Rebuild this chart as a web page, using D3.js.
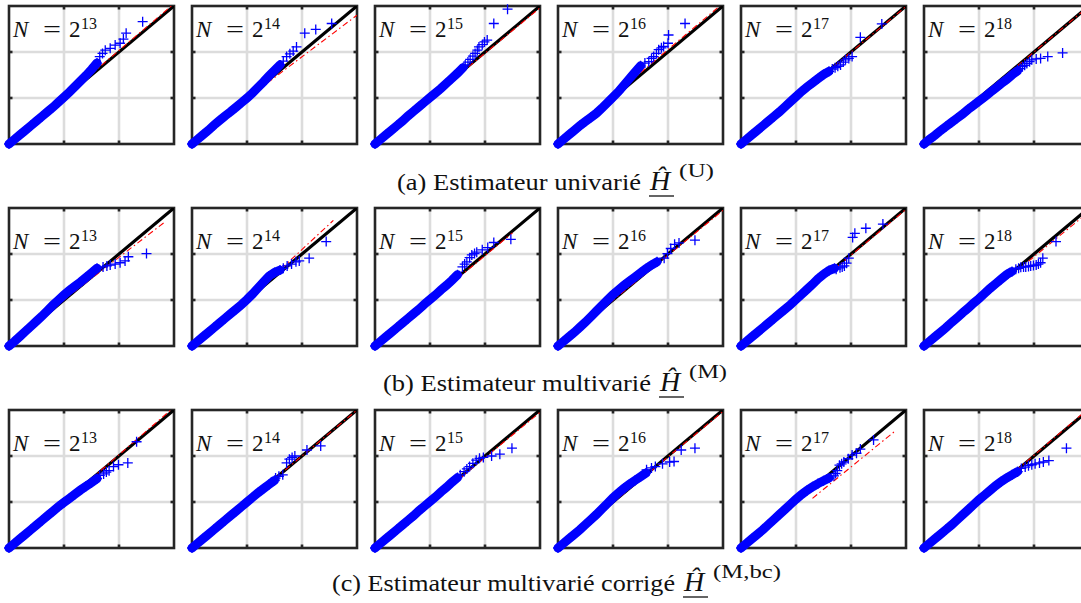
<!DOCTYPE html>
<html>
<head>
<meta charset="utf-8">
<script src="https://cdn.jsdelivr.net/npm/d3@7"></script>
<style>
  body { margin: 0; background: #fff; }
  svg { display: block; }
</style>
</head>
<body>
<svg id="fig" width="1081" height="603"></svg>
<script>
// ---- data -------------------------------------------------------------
// sample sizes N = 2^k, one panel per exponent
const exponents = [13, 14, 15, 16, 17, 18];

// theoretical quantiles used for the dense central part of each QQ plot
const quantX = [0.0, 0.1, 0.2, 0.3, 0.4, 0.5, 0.6, 0.7, 0.8, 0.9,
                1.0, 1.1, 1.2, 1.3, 1.4, 1.5, 1.6, 1.7, 1.8, 1.9];

// (a) univariate estimator: empirical quantiles on quantX
const bandU = [
  [0, .1, .2, .3, .4, .5, .6, .7, .8, .91, 1.02, 1.13, 1.25, 1.37, 1.49, 1.62, 1.76],
  [0, .1, .2, .3, .41, .51, .61, .7, .8, .9, 1.0, 1.11, 1.23, 1.35, 1.48, 1.6, 1.72],
  [0, .1, .2, .3, .4, .5, .61, .71, .81, .91, 1.01, 1.11, 1.21, 1.32, 1.43, 1.54, 1.66],
  [0, .1, .2, .3, .4, .49, .58, .67, .78, .9, 1.02, 1.14, 1.28, 1.42, 1.56, 1.70],
  [0, .1, .2, .3, .4, .5, .6, .7, .81, .92, 1.03, 1.14, 1.24, 1.33, 1.42, 1.51, 1.58],
  [0, .1, .19, .29, .38, .47, .56, .65, .75, .84, .93, 1.02, 1.12, 1.21, 1.31, 1.40, 1.50, 1.59]
];
// (a) upper-tail points [theoretical, empirical]
const tailU = [
  [[1.65,1.90],[1.70,1.97],[1.75,2.04],[1.84,2.08],[1.93,2.15],[2.02,2.19],[2.08,2.28],[2.13,2.41],[2.43,2.66]],
  [[1.60,1.72],[1.66,1.80],[1.72,1.90],[1.78,1.96],[1.84,2.02],[1.90,2.11],[2.05,2.41],[2.25,2.49],[2.54,2.62]],
  [[1.64,1.72],[1.69,1.78],[1.73,1.84],[1.78,1.91],[1.82,1.97],[1.86,2.04],[1.89,2.11],[1.95,2.16],[1.99,2.22],[2.04,2.26],[2.16,2.62],[2.41,2.93]],
  [[1.58,1.76],[1.65,1.79],[1.70,1.86],[1.74,1.90],[1.79,1.97],[1.83,2.05],[1.88,2.09],[1.92,2.12],[2.00,2.19],[2.01,2.37],[2.31,2.62]],
  [[1.66,1.63],[1.71,1.66],[1.76,1.69],[1.81,1.72],[1.86,1.78],[1.90,1.83],[1.96,1.86],[2.02,1.90],[2.17,2.32],[2.56,2.61]],
  [[1.70,1.61],[1.75,1.64],[1.79,1.68],[1.83,1.71],[1.87,1.75],[1.92,1.79],[1.96,1.83],[2.04,1.85],[2.12,1.86],[2.25,1.90],[2.52,1.98]]
];
// (a) fitted quartile line, [x0, y0, x1, y1]
const fitU = [[0,0,3,3.05],[0,0.09,3,2.80],[0,0,3,2.96],[0,0.04,3,3.06],[0,0.01,3,2.99],[0,0,3,3]];

// (b) multivariate estimator
const bandM = [
  [0, .1, .21, .32, .43, .54, .65, .77, .89, 1.0, 1.11, 1.21, 1.3, 1.39, 1.49, 1.59, 1.69],
  [0, .1, .2, .3, .4, .5, .6, .7, .8, .9, 1.01, 1.13, 1.26, 1.39, 1.52, 1.6, 1.65],
  [0, .1, .2, .3, .4, .5, .6, .7, .8, .91, 1.01, 1.11, 1.22, 1.32, 1.43, 1.55],
  [0, .1, .2, .3, .41, .52, .64, .76, .88, 1.0, 1.12, 1.22, 1.32, 1.41, 1.5, 1.59, 1.68, 1.76, 1.83],
  [0, .1, .2, .3, .4, .5, .6, .7, .8, .9, 1.01, 1.12, 1.23, 1.34, 1.46, 1.56, 1.64, 1.69],
  [0, .1, .2, .3, .4, .51, .61, .72, .82, .93, 1.03, 1.14, 1.25, 1.35, 1.45, 1.55, 1.62]
];
const tailM = [
  [[1.71,1.72],[1.78,1.74],[1.84,1.76],[1.93,1.78],[2.02,1.81],[2.11,1.85],[2.17,1.94],[2.50,2.01]],
  [[1.66,1.69],[1.73,1.74],[1.81,1.78],[1.89,1.83],[1.95,1.85],[2.13,1.91],[2.44,2.27]],
  [[1.59,1.72],[1.63,1.78],[1.67,1.83],[1.72,1.92],[1.76,1.98],[1.81,2.01],[1.85,2.04],[1.95,2.09],[2.05,2.14],[2.16,2.25],[2.47,2.32]],
  [[1.93,1.91],[1.99,2.01],[2.05,2.12],[2.12,2.21],[2.20,2.24],[2.49,2.30]],
  [[1.73,1.67],[1.80,1.70],[1.84,1.72],[1.88,1.74],[1.92,1.80],[1.96,1.91],[2.03,2.36],[2.07,2.45],[2.27,2.56],[2.58,2.65]],
  [[1.67,1.67],[1.72,1.69],[1.76,1.71],[1.81,1.72],[1.85,1.72],[1.90,1.73],[1.94,1.74],[1.99,1.75],[2.04,1.76],[2.08,1.78],[2.12,1.81],[2.16,1.91],[2.40,2.27]]
];
const fitM = [[0,0.09,2.85,2.71],[0,-0.12,2.57,2.73],[0,-0.02,2.5,2.46],[0,0.02,3,2.95],[0,-0.02,3,2.97],[0,-0.02,3,2.92]];

// (c) bias-corrected multivariate estimator
const bandC = [
  [0, .1, .2, .3, .4, .5, .6, .7, .8, .9, .99, 1.08, 1.17, 1.26, 1.34, 1.42, 1.51],
  [0, .1, .2, .3, .4, .5, .6, .7, .8, .9, 1.0, 1.1, 1.2, 1.29, 1.38, 1.47],
  [0, .1, .2, .3, .4, .5, .6, .7, .81, .91, 1.01, 1.11, 1.22, 1.32, 1.43, 1.53],
  [0, .1, .2, .3, .4, .51, .62, .73, .85, .97, 1.09, 1.2, 1.3, 1.39, 1.47, 1.55, 1.63],
  [0, .1, .2, .3, .4, .51, .62, .73, .84, .95, 1.06, 1.16, 1.25, 1.33, 1.4, 1.46, 1.52],
  [0, .1, .2, .3, .4, .5, .61, .72, .83, .94, 1.05, 1.15, 1.25, 1.35, 1.44, 1.52, 1.59, 1.66]
];
const tailC = [
  [[1.65,1.58],[1.72,1.61],[1.77,1.65],[1.82,1.68],[1.90,1.77],[1.99,1.81],[2.16,1.85],[2.32,2.31]],
  [[1.52,1.52],[1.58,1.56],[1.65,1.59],[1.72,1.85],[1.77,1.93],[1.82,1.97],[1.87,2.00],[2.09,2.13],[2.34,2.22]],
  [[1.55,1.59],[1.62,1.66],[1.67,1.72],[1.72,1.77],[1.78,1.84],[1.84,1.91],[1.90,1.95],[1.97,1.97],[2.12,2.00],[2.27,2.04],[2.49,2.17]],
  [[1.61,1.70],[1.70,1.74],[1.77,1.77],[1.90,1.83],[2.03,1.87],[2.11,1.88],[2.24,2.13],[2.49,2.17]],
  [[1.69,1.57],[1.72,1.62],[1.75,1.68],[1.79,1.80],[1.83,1.83],[1.87,1.87],[1.95,1.94],[2.02,2.02],[2.10,2.06],[2.17,2.15],[2.41,2.35]],
  [[1.70,1.66],[1.77,1.73],[1.84,1.76],[1.90,1.79],[1.96,1.81],[2.02,1.83],[2.10,1.85],[2.17,1.87],[2.27,1.90],[2.59,2.17]]
];
const fitC = [[0,-0.04,3,3.06],[0,0,3,3],[0,0,3,2.95],[0,0,3,2.97],[1.3,1.08,2.81,2.55],[0,-0.03,3,3.04]];

// captions: prefix, superscript
const captionText = ["(a) Estimateur univarié", "(b) Estimateur multivarié", "(c) Estimateur multivarié corrigé"];
const captionSup = ["(U)", "(M)", "(M,bc)"];

// axis limits and grid positions
const axisDomain = [0, 3];
const gridValues = [1, 2];

// ---- layout -----------------------------------------------------------
const FONT = '"Liberation Serif", "Tinos", "Times New Roman", serif';
const PW = 165, PH = 138;
const panelLeft = i => 9 + 183 * i;
const rowTop = [6, 208, 410];
const labelBase = [31, 41, 41];
const captionBase = [190, 391, 591];
const captionStart = [397, 383, 332];
const captionWidth = [244, 268, 343];
const supWidth = [35, 38, 68];

const rows = [
  { band: bandU, tail: tailU, fit: fitU },
  { band: bandM, tail: tailM, fit: fitM },
  { band: bandC, tail: tailC, fit: fitC }
];

const svg = d3.select("#fig").style("font-family", FONT);
const defs = svg.append("defs");
defs.append("clipPath").attr("id", "panelClip")
  .append("rect").attr("x", 0).attr("y", 0).attr("width", PW).attr("height", PH);

const x = d3.scaleLinear().domain(axisDomain).range([0, PW]);
const y = d3.scaleLinear().domain(axisDomain).range([PH, 0]);
const crossPath = "M-5,0H5M0,-5V5";
const inside = p => p[0] >= 0 && p[0] <= 3 && p[1] >= 0 && p[1] <= 3;

rows.forEach((row, r) => {
  exponents.forEach((k, i) => {
    const g = svg.append("g")
      .attr("transform", `translate(${panelLeft(i)},${rowTop[r]})`);

    g.append("rect").attr("width", PW).attr("height", PH).attr("fill", "#fff");

    // grid
    g.append("g").selectAll("line").data(gridValues).join("line")
      .attr("x1", d => x(d)).attr("x2", d => x(d)).attr("y1", 0).attr("y2", PH)
      .attr("stroke", "#dcdcdc").attr("stroke-width", 2.6);
    g.append("g").selectAll("line").data(gridValues).join("line")
      .attr("y1", d => y(d)).attr("y2", d => y(d)).attr("x1", 0).attr("x2", PW)
      .attr("stroke", "#dcdcdc").attr("stroke-width", 2.6);

    // frame and inward ticks
    g.append("rect").attr("width", PW).attr("height", PH)
      .attr("fill", "none").attr("stroke", "#262626").attr("stroke-width", 2.6);
    const tickG = g.append("g").attr("stroke", "#262626").attr("stroke-width", 2.6);
    gridValues.forEach(v => {
      tickG.append("line").attr("x1", x(v)).attr("x2", x(v)).attr("y1", PH).attr("y2", PH - 3.5);
      tickG.append("line").attr("x1", x(v)).attr("x2", x(v)).attr("y1", 0).attr("y2", 3.5);
      tickG.append("line").attr("y1", y(v)).attr("y2", y(v)).attr("x1", 0).attr("x2", 3.5);
      tickG.append("line").attr("y1", y(v)).attr("y2", y(v)).attr("x1", PW).attr("x2", PW - 3.5);
    });

    const plot = g.append("g").attr("clip-path", "url(#panelClip)");

    // reference line y = x
    plot.append("line")
      .attr("x1", x(0)).attr("y1", y(0)).attr("x2", x(3)).attr("y2", y(3))
      .attr("stroke", "#000").attr("stroke-width", 3.2);

    // fitted quartile line
    const f = row.fit[i];
    plot.append("line")
      .attr("x1", x(f[0])).attr("y1", y(f[1])).attr("x2", x(f[2])).attr("y2", y(f[3]))
      .attr("stroke", "#ff0000").attr("stroke-width", 1.1)
      .attr("stroke-dasharray", "6,3,1.5,3");

    // sample quantiles: dense central part
    const pts = row.band[i].map((v, j) => [quantX[j], v]);
    g.append("path").datum(pts)
      .attr("d", d3.line().x(d => x(d[0])).y(d => y(d[1])))
      .attr("fill", "none").attr("stroke", "#0000ff")
      .attr("stroke-width", 9).attr("stroke-linecap", "round");

    const all = pts.concat(row.tail[i]).filter(inside);
    g.append("g").selectAll("path").data(all).join("path")
      .attr("d", crossPath)
      .attr("transform", d => `translate(${x(d[0])},${y(d[1])})`)
      .attr("fill", "none").attr("stroke", "#0000ff").attr("stroke-width", 1.3);

    // panel label N = 2^k
    const lb = labelBase[r];
    const lab = g.append("g").attr("font-size", 23).attr("fill", "#111");
    lab.append("text").attr("x", 4).attr("y", lb).attr("font-style", "italic").text("N");
    lab.append("text").attr("x", 34).attr("y", lb)
      .attr("textLength", 18).attr("lengthAdjust", "spacingAndGlyphs").text("=");
    lab.append("text").attr("x", 60).attr("y", lb).text("2");
    lab.append("text").attr("x", 72).attr("y", lb - 8).attr("font-size", 16).text(String(k));
  });

  // caption
  const cb = captionBase[r], cx = captionStart[r], cw = captionWidth[r];
  const cg = svg.append("g").attr("font-size", 24).attr("fill", "#111");
  cg.append("text").attr("x", cx).attr("y", cb)
    .attr("textLength", cw).attr("lengthAdjust", "spacingAndGlyphs")
    .text(captionText[r]);
  const hx = cx + cw + 9;
  cg.append("text").attr("x", hx).attr("y", cb).attr("font-style", "italic")
    .attr("font-size", 28).text("Ĥ");
  cg.append("line").attr("x1", hx - 1).attr("x2", hx + 24).attr("y1", cb + 6).attr("y2", cb + 6)
    .attr("stroke", "#111").attr("stroke-width", 1.3);
  cg.append("text").attr("x", hx + 29).attr("y", cb - 13).attr("font-size", 19)
    .attr("textLength", supWidth[r]).attr("lengthAdjust", "spacingAndGlyphs")
    .text(captionSup[r]);
});
</script>
</body>
</html>
